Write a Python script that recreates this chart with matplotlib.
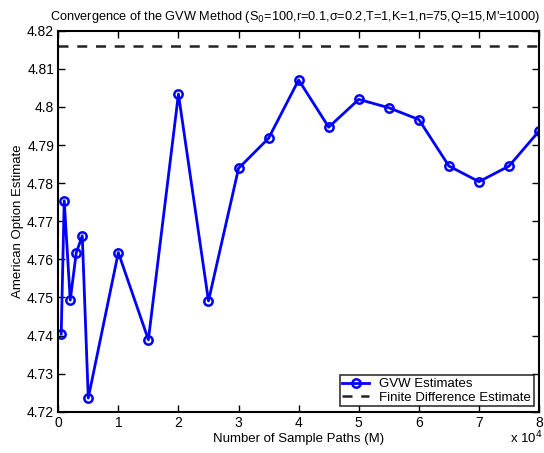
import numpy as np
from matplotlib import pyplot as plt

plt.rcParams['font.family'] = ['Liberation Sans', 'DejaVu Sans']

# number of sample paths and the GVW price estimates
paths = [500, 1000, 2000, 3000, 4000, 5000, 10000, 15000, 20000, 25000, 30000,
         35000, 40000, 45000, 50000, 55000, 60000, 65000, 70000, 75000, 80000]
gvw = [4.7404, 4.7754, 4.7493, 4.7617, 4.7662, 4.7236, 4.7618, 4.7389, 4.8034,
       4.7491, 4.7839, 4.7918, 4.8071, 4.7947, 4.8020, 4.7998, 4.7967, 4.7845,
       4.7804, 4.7845, 4.7937]
fd_estimate = 4.8160  # finite difference benchmark

xticks = [0, 1, 2, 3, 4, 5, 6, 7, 8]
yticks = [4.72, 4.73, 4.74, 4.75, 4.76, 4.77, 4.78, 4.79, 4.80, 4.81, 4.82]
ytick_labels = ['4.72', '4.73', '4.74', '4.75', '4.76', '4.77', '4.78', '4.79', '4.8', '4.81', '4.82']

fig = plt.figure(figsize=(5.44, 4.53), dpi=100)
ax = fig.add_axes([0.107, 0.091, 0.884, 0.841])

x = np.array(paths) / 1e4
ax.plot(x, gvw, '-o', color='#0000ff', lw=2, ms=6, mfc='none', mew=1.8,
        label='GVW Estimates')
ax.axhline(fd_estimate, color='#222222', ls='--', lw=1.8, dashes=(4, 3.5),
           label='Finite Difference Estimate')

ax.set_xlim(0, 8)
ax.set_ylim(4.72, 4.82)
ax.set_xticks(xticks)
ax.set_yticks(yticks)
ax.set_yticklabels(ytick_labels)
ax.tick_params(direction='in', top=True, right=True, length=5, width=1,
               labelsize=10, pad=3)
for s in ax.spines.values():
    s.set_linewidth(1.5)

fig.text(0.091, 0.955,
         "Convergence of the GVW Method (S$_0$=100,r=0.1,\u03c3=0.2,T=1,K=1,n=75,Q=15,M'=1000)",
         fontsize=9.2, ha='left', va='baseline')
ax.set_xlabel('Number of Sample Paths (M)', fontsize=9.5, labelpad=2)
ax.set_ylabel('American Option Estimate', fontsize=9.5, labelpad=2)
fig.text(0.938, 0.022, r'x 10$^4$', fontsize=9.5)

leg = ax.legend(loc='lower right', fontsize=9.5, frameon=True, fancybox=False,
                edgecolor='black', borderpad=0.2, labelspacing=0.1,
                handlelength=2.0, borderaxespad=0.4)
leg.get_frame().set_linewidth(1.2)

fig.savefig('out.png', dpi=100)
